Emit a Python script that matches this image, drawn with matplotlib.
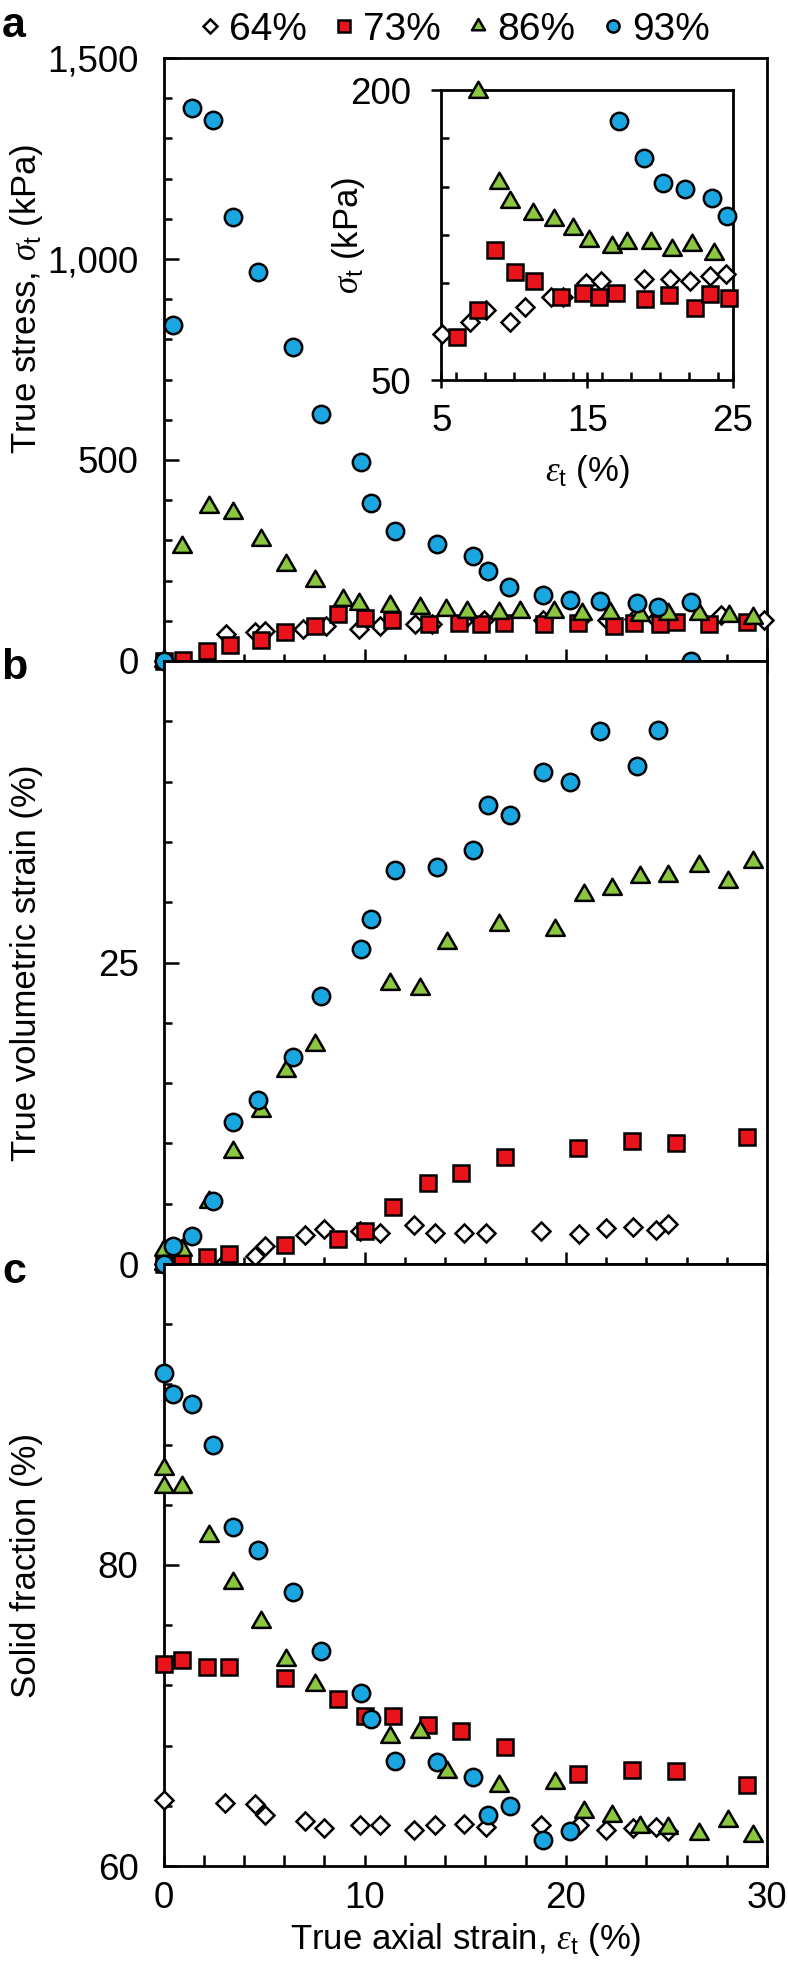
import numpy as np
import matplotlib.pyplot as plt
from matplotlib.path import Path
from matplotlib.ticker import MultipleLocator, FixedLocator, FuncFormatter

plt.rcParams['font.family'] = ['Liberation Sans', 'DejaVu Sans']
plt.rcParams['mathtext.fontset'] = 'custom'
plt.rcParams['mathtext.rm'] = 'Liberation Sans'
plt.rcParams['mathtext.it'] = 'Liberation Serif:italic'
plt.rcParams['mathtext.bf'] = 'Liberation Sans:bold'

# ---- panel a: true stress (kPa) vs true axial strain (%) ----
eps_a_64 = [0, 3.1, 4.55, 5.05, 6.95, 8.07, 9.7, 10.75, 12.5, 13.35, 14.9, 15.95,
            18.86, 20.7, 22.05, 23.4, 24.5, 27.7, 29.86]
stress_64 = [0, 67, 71, 74, 80, 86, 80, 88, 93, 93, 100, 101,
             102, 102, 101, 104, 105, 115, 102]

eps_a_73 = [0, 0.98, 2.17, 3.3, 4.87, 6.03, 7.52, 8.67, 10.03, 11.38, 13.18, 14.7,
            15.8, 16.95, 18.93, 20.6, 22.4, 23.4, 24.7, 25.5, 27.1, 29.0]
stress_73 = [0, 2, 25, 40, 52, 72, 86, 117, 106, 101, 93, 95,
             93, 95, 92, 94, 87, 94.5, 92.6, 96, 92, 96]

eps_a_86 = [0, 0.91, 2.27, 3.44, 4.84, 6.08, 7.52, 8.93, 9.7, 11.25, 12.73, 14.05,
            15.1, 16.7, 17.7, 19.4, 20.8, 22.2, 23.7, 25.1, 26.6, 28.1, 29.3]
stress_86 = [0, 283, 383, 367, 302, 240, 199, 152, 142, 136, 133, 128,
             122, 119, 121, 121, 117, 120, 115, 117, 117, 112, 108]

eps_a_93 = [0, 0.49, 1.4, 2.47, 3.44, 4.7, 6.46, 7.82, 9.83, 10.33, 11.53, 13.62,
            15.38, 16.11, 17.16, 18.86, 20.2, 21.7, 23.55, 24.6, 26.2, 26.2]
stress_93 = [0, 836, 1375, 1345, 1105, 967, 782, 614, 494, 392, 323, 290,
             260, 224, 184, 165, 152, 149, 144, 135, 146, 0]

# ---- panels b and c: volumetric strain / solid fraction (%) ----
eps_bc_64 = [0, 3.08, 4.56, 5.05, 7.03, 8.0, 9.77, 10.78, 12.44, 13.5, 14.93, 16.05,
             18.78, 20.65, 22.0, 23.35, 24.5, 25.1]
vol_64 = [0, 0.16, 0.64, 1.5, 2.4, 2.9, 2.7, 2.55, 3.25, 2.6, 2.55, 2.6,
          2.7, 2.5, 3.0, 3.1, 2.85, 3.3]
solid_64 = [64.4, 64.2, 64.1, 63.4, 63.0, 62.5, 62.7, 62.75, 62.4, 62.7, 62.8, 62.6,
            62.75, 62.75, 62.4, 62.5, 62.6, 62.3]

eps_bc_73 = [0, 0.91, 2.17, 3.28, 6.02, 8.69, 10.03, 11.43, 13.17, 14.77, 16.96,
             20.6, 23.3, 25.5, 29.0]
vol_73 = [0, 0.16, 0.54, 0.8, 1.6, 2.07, 2.77, 4.7, 6.7, 7.58, 8.85,
          9.65, 10.2, 10.0, 10.5]
solid_73 = [73.4, 73.7, 73.25, 73.25, 72.5, 71.1, 70.0, 70.0, 69.4, 69.0, 67.9,
            66.1, 66.4, 66.3, 65.4]

eps_bc_86 = [0, 0, 0.91, 2.27, 3.44, 4.84, 6.08, 7.54, 11.27, 12.77, 14.1, 16.7,
             19.45, 20.9, 22.3, 23.7, 25.1, 26.6, 28.06, 29.3]
vol_86 = [0, 1.2, 1.2, 5.1, 9.3, 12.7, 16.0, 18.2, 23.2, 22.8, 26.6, 28.1,
          27.7, 30.6, 31.1, 32.1, 32.2, 33.0, 31.7, 33.3]
solid_86 = [86.4, 85.2, 85.2, 81.9, 78.8, 76.2, 73.7, 72.0, 68.6, 68.9, 66.25, 65.3,
            65.5, 63.6, 63.3, 62.6, 62.5, 62.1, 63.0, 62.0]

eps_bc_93 = [0, 0.49, 1.4, 2.47, 3.44, 4.7, 6.46, 7.82, 9.83, 10.33, 11.53, 13.62,
             15.38, 16.11, 17.2, 18.86, 20.2, 21.7, 23.55, 24.6]
vol_93 = [0, 1.53, 2.3, 5.25, 11.75, 13.6, 17.2, 22.2, 26.1, 28.6, 32.7, 32.9,
          34.3, 38.1, 37.2, 40.8, 40.0, 44.2, 41.3, 44.3]
solid_93 = [92.77, 91.35, 90.7, 88.0, 82.5, 81.0, 78.2, 74.3, 71.5, 69.8, 67.0, 66.9,
            65.9, 63.4, 64.0, 61.7, 62.3]

labels = ['64%', '73%', '86%', '93%']

# equilateral triangle, centred on its centroid
tri = Path([(-1, -0.577), (1, -0.577), (0, 1.155), (-1, -0.577)],
           [Path.MOVETO, Path.LINETO, Path.LINETO, Path.CLOSEPOLY])

styles = {
    '64%': dict(marker='D', ms=9.5, mfc='white', zorder=3),
    '73%': dict(marker='s', ms=11.5, mfc='#e8131b', zorder=4),
    '86%': dict(marker=tri, ms=15.5, mfc='#8cc63f', zorder=5),
    '93%': dict(marker='o', ms=12.5, mfc='#1aa7e1', zorder=6),
}


def scatter(ax, x, y, key):
    st = styles[key]
    return ax.plot(x, y, linestyle='none', marker=st['marker'], ms=st['ms'],
                   mfc=st['mfc'], mec='black', mew=1.8, clip_on=False,
                   zorder=st['zorder'], label=key)[0]


W_PX, H_PX = 788, 1966
fig = plt.figure(figsize=(W_PX / 100, H_PX / 100), dpi=100)

left = 163.5 / W_PX
width = (767 - 163.5) / W_PX


def box(top_px, bot_px):
    return [left, 1 - bot_px / H_PX, width, (bot_px - top_px) / H_PX]


ax_a = fig.add_axes(box(58, 661))
ax_b = fig.add_axes(box(661, 1264))
ax_c = fig.add_axes(box(1264, 1866))

FS = 25
TFS = 26.5

for ax in (ax_a, ax_b, ax_c):
    ax.set_xlim(0, 30)
    ax.xaxis.set_major_locator(MultipleLocator(10))
    ax.xaxis.set_minor_locator(MultipleLocator(2))
    for s in ax.spines.values():
        s.set_linewidth(2)
    ax.tick_params(axis='y', which='major', direction='in', length=11, width=1.8,
                   labelsize=TFS, pad=18, right=False)
    ax.tick_params(axis='y', which='minor', direction='in', length=6, width=1.8,
                   right=False)

for ax in (ax_a, ax_b):
    ax.tick_params(axis='x', which='major', direction='inout', length=17, width=1.8,
                   labelbottom=False)
    ax.tick_params(axis='x', which='minor', direction='inout', length=10, width=1.8)

ax_c.tick_params(axis='x', which='major', direction='in', length=8, width=1.8,
                 labelsize=TFS, pad=11)
ax_c.tick_params(axis='x', which='minor', direction='in', length=8, width=1.8)

# panel a
handles = []
for key, x, y in zip(labels, [eps_a_64, eps_a_73, eps_a_86, eps_a_93],
                     [stress_64, stress_73, stress_86, stress_93]):
    handles.append(scatter(ax_a, x, y, key))
ax_a.set_ylim(0, 1500)
ax_a.yaxis.set_major_locator(MultipleLocator(500))
ax_a.yaxis.set_minor_locator(MultipleLocator(100))
ax_a.yaxis.set_major_formatter(FuncFormatter(lambda v, p: f'{v:,.0f}'))
ax_a.set_ylabel(r'True stress, $\sigma_{\rm t}$ (kPa)', fontsize=FS)

# panel b
for key, x, y in zip(labels, [eps_bc_64, eps_bc_73, eps_bc_86, eps_bc_93],
                     [vol_64, vol_73, vol_86, vol_93]):
    scatter(ax_b, x, y, key)
ax_b.set_ylim(0, 50)
ax_b.yaxis.set_major_locator(FixedLocator([0, 25, 50]))
ax_b.yaxis.set_minor_locator(MultipleLocator(5))
ax_b.set_yticklabels(['0', '25', ''])
ax_b.set_ylabel('True volumetric strain (%)', fontsize=FS)

# panel c
for key, x, y in zip(labels, [eps_bc_64, eps_bc_73, eps_bc_86, eps_bc_93],
                     [solid_64, solid_73, solid_86, solid_93]):
    scatter(ax_c, x[:len(y)], y, key)
ax_c.set_ylim(60, 100)
ax_c.yaxis.set_major_locator(FixedLocator([60, 80, 100]))
ax_c.yaxis.set_minor_locator(MultipleLocator(4))
ax_c.set_yticklabels(['60', '80', ''])
ax_c.set_ylabel('Solid fraction (%)', fontsize=FS)
ax_c.set_xticks([0, 10, 20, 30])
ax_c.set_xlabel(r'True axial strain, $\varepsilon_{\rm t}$ (%)', fontsize=FS)
ax_c.xaxis.set_label_coords(0.5, (1866 - 1940) / 602)
ax_c.xaxis.label.set_verticalalignment('center')

for ax, yc in ((ax_a, 0.6), (ax_b, 0.5), (ax_c, 0.5)):
    ax.yaxis.set_label_coords((27 - 163.5) / 603.5, yc)
    ax.yaxis.label.set_verticalalignment('center')

# inset of panel a
ax_in = fig.add_axes([441.5 / W_PX, 1 - 380 / H_PX, (733 - 441.5) / W_PX, 290 / H_PX])
for key, x, y in zip(labels, [eps_a_64, eps_a_73, eps_a_86, eps_a_93],
                     [stress_64, stress_73, stress_86, stress_93]):
    x = np.asarray(x)
    y = np.asarray(y)
    keep = (x >= 4.8) & (x <= 25.0) & (y >= 60) & (y <= 202)
    scatter(ax_in, x[keep], y[keep], key)
ax_in.set_xlim(5, 25)
ax_in.set_ylim(50, 200)
ax_in.xaxis.set_major_locator(FixedLocator([5, 15, 25]))
ax_in.xaxis.set_minor_locator(MultipleLocator(2))
ax_in.yaxis.set_major_locator(FixedLocator([50, 200]))
ax_in.yaxis.set_minor_locator(MultipleLocator(25))
for s in ax_in.spines.values():
    s.set_linewidth(2)
ax_in.tick_params(axis='x', which='major', direction='inout', length=12, width=1.8,
                  labelsize=TFS, pad=11)
ax_in.tick_params(axis='x', which='minor', direction='in', length=6, width=1.8)
ax_in.tick_params(axis='y', which='major', direction='out', length=7, width=1.8,
                  labelsize=TFS, pad=15)
ax_in.tick_params(axis='y', which='minor', direction='in', length=6, width=1.8)
ax_in.set_xlabel(r'$\varepsilon_{\rm t}$ (%)', fontsize=FS)
ax_in.xaxis.set_label_coords(0.5, (380 - 472) / 290)
ax_in.xaxis.label.set_verticalalignment('center')
ax_in.set_ylabel(r'$\sigma_{\rm t}$ (kPa)', fontsize=FS)
ax_in.yaxis.set_label_coords((349 - 441.5) / 291.5, 0.5)
ax_in.yaxis.label.set_verticalalignment('center')

# legend and panel letters
fig.legend(handles, labels, loc='center left', bbox_to_anchor=(200 / W_PX, 1 - 30 / H_PX),
           ncol=4, frameon=False, fontsize=28, handletextpad=0.25, columnspacing=0.7,
           handlelength=0.5, markerscale=0.7, borderpad=0, borderaxespad=0)

for letter, yc in (('a', 26), ('b', 668), ('c', 1272)):
    fig.text(14 / W_PX, 1 - yc / H_PX, letter, fontsize=31, fontweight='bold',
             ha='center', va='center')

fig.savefig('out.png', dpi=100)
